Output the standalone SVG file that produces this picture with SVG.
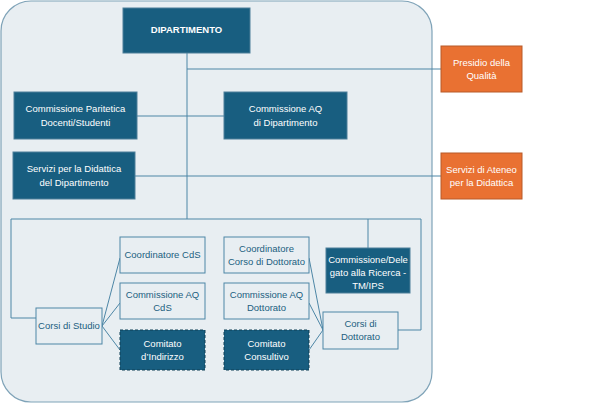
<svg xmlns="http://www.w3.org/2000/svg" width="611" height="404" viewBox="0 0 611 404">
<style>
text{font-family:"Liberation Sans",Arial,sans-serif;font-size:9.5px;text-anchor:middle}
.d{fill:#185e80;stroke:#4d7f99;stroke-width:1}
.o{fill:#e97132;stroke:#b85a28;stroke-width:1}
.l{fill:#e8eef2;stroke:#4d86a6;stroke-width:1}
.dd{fill:#185e80;stroke:#0f3e55;stroke-width:1;stroke-dasharray:3 2}
.w{fill:#ffffff}
.b{fill:#21607f}
.c{fill:none;stroke:#4d86a6;stroke-width:1}
</style>
<rect x="1" y="1" width="431" height="401" rx="30" fill="#e8eef2" stroke="#7fa3b8" stroke-width="1.2"/>
<g id="connectors" class="c">
<path d="M187 53V219M187 69H441M137 116H224M135 176H441M11 219H421M11 219V318H36M421 219V330H398M368 219V248"/>
<path d="M102 326L120 258M102 326L120 303M102 326L120 350M323 330L309 258M323 330L309 303M323 330L309 350"/>
</g>
<g id="dip"><rect class="d" x="123" y="8" width="127" height="45"/><text class="w" x="186.5" y="33" font-weight="bold">DIPARTIMENTO</text></g>
<g id="presidio"><rect class="o" x="441" y="46" width="81" height="46"/><text class="w" x="481.5" y="66">Presidio della</text><text class="w" x="481.5" y="79">Qualità</text></g>
<g id="paritetica"><rect class="d" x="14" y="92" width="123" height="47"/><text class="w" x="75.5" y="112">Commissione Paritetica</text><text class="w" x="75.5" y="126">Docenti/Studenti</text></g>
<g id="aqdip"><rect class="d" x="224" y="92" width="123" height="47"/><text class="w" x="285.5" y="112">Commissione AQ</text><text class="w" x="285.5" y="126">di Dipartimento</text></g>
<g id="servizi"><rect class="d" x="13" y="152" width="122" height="47"/><text class="w" x="74" y="172">Servizi per la Didattica</text><text class="w" x="74" y="186">del Dipartimento</text></g>
<g id="ateneo"><rect class="o" x="441" y="153" width="81" height="46"/><text class="w" x="481.5" y="173">Servizi di Ateneo</text><text class="w" x="481.5" y="186">per la Didattica</text></g>
<g id="corsistudio"><rect class="l" x="36" y="308" width="66" height="36"/><text class="b" x="69" y="329">Corsi di Studio</text></g>
<g id="coordcds"><rect class="l" x="120" y="237" width="85" height="36"/><text class="b" x="162.5" y="258">Coordinatore CdS</text></g>
<g id="aqcds"><rect class="l" x="120" y="283" width="85" height="36"/><text class="b" x="162.5" y="298">Commissione AQ</text><text class="b" x="162.5" y="311">CdS</text></g>
<g id="indirizzo"><rect class="dd" x="120" y="330" width="85" height="40"/><text class="w" x="162.5" y="347">Comitato</text><text class="w" x="162.5" y="360">d’Indirizzo</text></g>
<g id="coorddott"><rect class="l" x="224" y="237" width="85" height="36"/><text class="b" x="266.5" y="252">Coordinatore</text><text class="b" x="266.5" y="265">Corso di Dottorato</text></g>
<g id="aqdott"><rect class="l" x="224" y="283" width="85" height="36"/><text class="b" x="266.5" y="298">Commissione AQ</text><text class="b" x="266.5" y="311">Dottorato</text></g>
<g id="consultivo"><rect class="dd" x="224" y="330" width="85" height="40"/><text class="w" x="266.5" y="347">Comitato</text><text class="w" x="266.5" y="360">Consultivo</text></g>
<g id="ricerca"><rect class="d" x="326" y="248" width="84" height="45"/><text class="w" x="368" y="263">Commissione/Dele</text><text class="w" x="368" y="276">gato alla Ricerca -</text><text class="w" x="368" y="289">TM/IPS</text></g>
<g id="corsidott"><rect class="l" x="323" y="312" width="75" height="37"/><text class="b" x="360.5" y="327">Corsi di</text><text class="b" x="360.5" y="340">Dottorato</text></g>
</svg>
